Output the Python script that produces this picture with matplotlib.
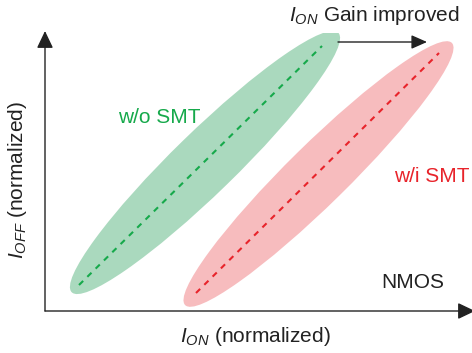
import matplotlib.pyplot as plt
from matplotlib.patches import Ellipse

plt.rcParams['font.family'] = ['Liberation Sans', 'DejaVu Sans']
plt.rcParams['mathtext.fontset'] = 'custom'
plt.rcParams['mathtext.rm'] = 'Liberation Sans'
plt.rcParams['mathtext.it'] = 'Liberation Sans:italic'

# trend lines (I_ON, I_OFF) in normalized units
wo_ion = [0.34, 2.77]
wo_ioff = [0.26, 2.65]
wi_ion = [1.51, 3.94]
wi_ioff = [0.18, 2.58]

# spread regions: centre, length, width, angle
wo_region = dict(center=(1.60, 1.485), length=3.72, width=0.62, angle=44.2)
wi_region = dict(center=(2.735, 1.37), length=3.74, width=0.60, angle=44.5)

green_fill = '#aad9be'
green = '#16a94b'
red_fill = '#f7bcbe'
red = '#e8242b'
axis_col = '#222222'

fig = plt.figure(figsize=(4.72, 3.53), dpi=100)
ax = fig.add_axes([45/472, 42/353, 425/472, 278/353])
ax.set_xlim(0, 4.25)
ax.set_ylim(0, 2.78)
ax.axis('off')

for reg, col in [(wo_region, green_fill), (wi_region, red_fill)]:
    ax.add_patch(Ellipse(reg['center'], reg['length'], reg['width'], angle=reg['angle'],
                         facecolor=col, edgecolor='none', zorder=1))

ax.plot(wo_ion, wo_ioff, color=green, lw=1.5, ls=(0, (2.8, 2.8)), zorder=2)
ax.plot(wi_ion, wi_ioff, color=red, lw=1.5, ls=(0, (2.8, 2.8)), zorder=2)

# axes with arrows
ax.annotate('', xy=(0, 2.80), xytext=(0, 0), annotation_clip=False,
            arrowprops=dict(arrowstyle='-|>,head_length=1.05,head_width=0.5', lw=1.0,
                            color=axis_col, shrinkA=0, shrinkB=0))
ax.annotate('', xy=(4.30, 0), xytext=(0, 0), annotation_clip=False,
            arrowprops=dict(arrowstyle='-|>,head_length=1.05,head_width=0.5', lw=1.0,
                            color=axis_col, shrinkA=0, shrinkB=0))

# gain arrow
ax.annotate('', xy=(3.82, 2.69), xytext=(2.93, 2.69), annotation_clip=False,
            arrowprops=dict(arrowstyle='-|>,head_length=0.95,head_width=0.42', lw=1.0,
                            color=axis_col, shrinkA=0, shrinkB=0))
ax.text(3.29, 2.95, r'$I_{ON}$ Gain improved', fontsize=15, ha='center', va='center',
        color=axis_col)

ax.text(1.14, 1.93, 'w/o SMT', fontsize=15, color=green, ha='center', va='center')
ax.text(3.49, 1.34, 'w/i SMT', fontsize=15, color=red, ha='left', va='center')
ax.text(3.68, 0.28, 'NMOS', fontsize=15, color=axis_col, ha='center', va='center')

ax.text(2.10, -0.26, r'$I_{ON}$ (normalized)', fontsize=15, ha='center', va='center',
        color=axis_col)
ax.text(-0.27, 1.31, r'$I_{OFF}$ (normalized)', fontsize=15, ha='center', va='center',
        rotation=90, color=axis_col)

fig.savefig('out.png', dpi=100)
